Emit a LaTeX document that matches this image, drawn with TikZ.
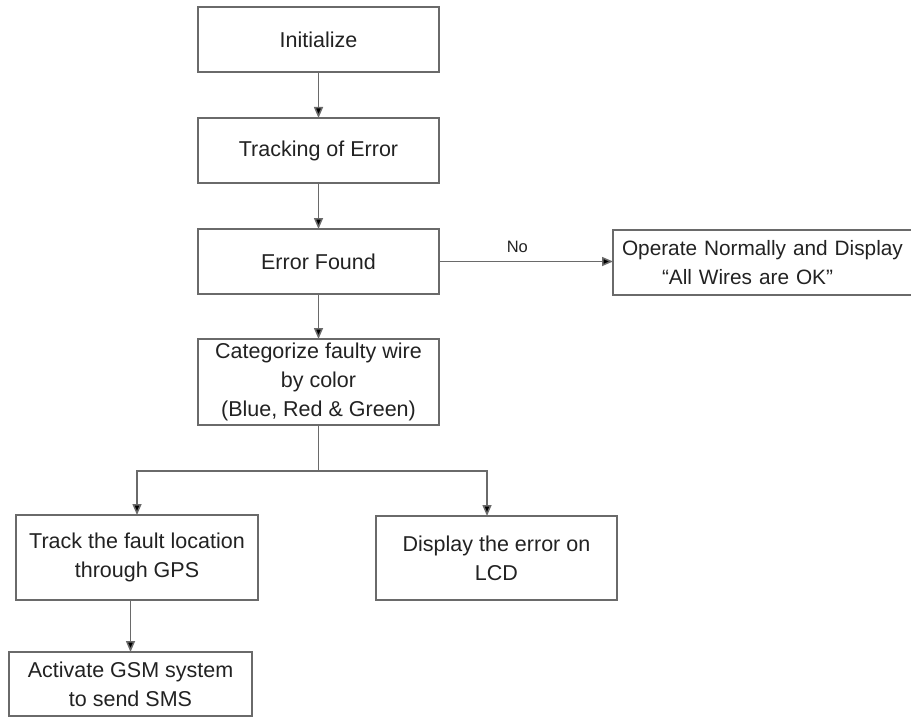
\documentclass[tikz,border=0pt]{standalone}
\usepackage{fontspec}
\setmainfont{Liberation Sans}
\usetikzlibrary{arrows.meta}
\definecolor{edge}{HTML}{6A6A6A}
\definecolor{ink}{HTML}{222222}
\begin{document}
\begin{tikzpicture}[x=1pt,y=-1pt,
  box/.style={draw=edge, line width=1.6pt, fill=white, inner sep=0pt, outer sep=0pt,
    align=center, text=ink, font=\fontsize{21.5}{29}\selectfont},
  arr/.style={draw=edge, line width=1.5pt, -{Triangle[length=11pt,width=9pt,fill=black]}},
  ln/.style={draw=edge, line width=1.5pt}]
\useasboundingbox (0,0) rectangle (911,717);
\clip (0,0) rectangle (911,717);
\fill[white] (0,0) rectangle (911,717);
\node[box, minimum width=241pt, minimum height=65pt] (init) at (318.5,39.5) {Initialize};
\node[box, minimum width=241pt, minimum height=65pt] (track) at (318.5,150.5) {Tracking of Error};
\node[box, minimum width=241pt, minimum height=65pt] (found) at (318.5,261.5) {Error Found};
\node[box, minimum height=65pt, text width=304pt, inner xsep=9pt, align=left,
  font=\fontsize{20.8}{29}\selectfont] (op) at (774,262.5)
  {Operate Normally and Display\\\hspace*{40pt}“All Wires are OK”};
\node[box, minimum width=241pt, minimum height=86pt] (cat) at (318.5,382) {Categorize faulty wire\\by color\\(Blue, Red \& Green)};
\node[box, minimum width=242pt, minimum height=85pt] (gps) at (137,557.5) {Track the fault location\\through GPS};
\node[box, minimum width=241pt, minimum height=84pt] (lcd) at (496.5,558) {Display the error on\\LCD};
\node[box, minimum width=243pt, minimum height=64pt] (gsm) at (130.5,684) {Activate GSM system\\to send SMS};
\coordinate (br) at (318.5,471);
\coordinate (lcdin) at (487,516);
\draw[arr] (init) -- (track);
\draw[arr] (track) -- (found);
\draw[arr] (found) -- (cat);
\draw[arr] (found.east) -- node[pos=0.45, above=5pt, text=ink, font=\fontsize{16.5}{20}\selectfont] (no) {No} (found.east -| op.west);
\draw[ln] (cat.south) -- (br);
\draw[arr] (br) -| (gps.north);
\draw[arr] (br) -| (lcdin);
\draw[arr] (gps.south -| gsm.north) -- (gsm.north);
\end{tikzpicture}
\end{document}
